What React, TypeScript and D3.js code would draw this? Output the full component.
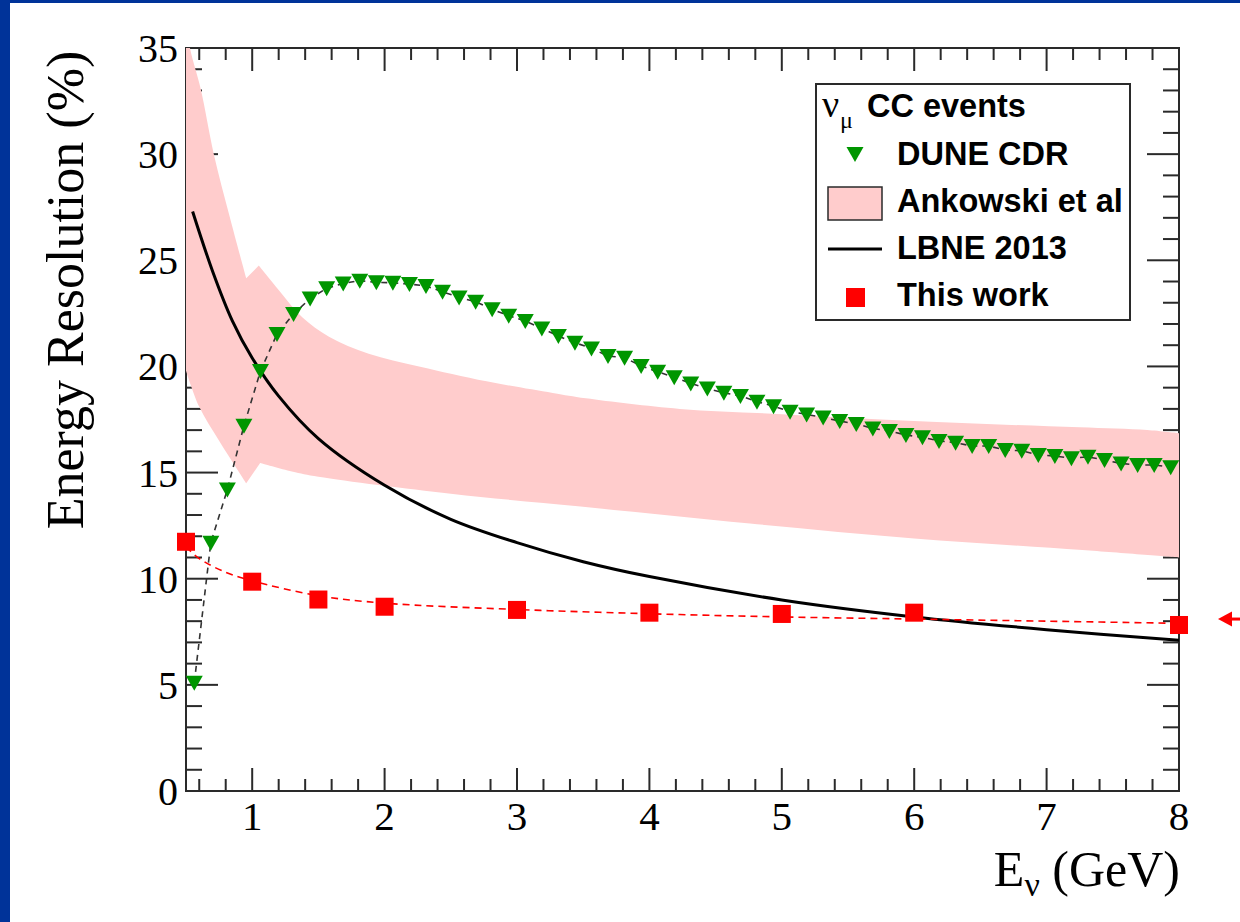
import React from 'react';
import * as d3 from 'd3';

// ---------------- data ----------------
const duneE = [
  0.5625, 0.6875, 0.8125, 0.9375, 1.0625, 1.1875, 1.3125, 1.4375, 1.5625, 1.6875,
  1.8125, 1.9375, 2.0625, 2.1875, 2.3125, 2.4375, 2.5625, 2.6875, 2.8125, 2.9375,
  3.0625, 3.1875, 3.3125, 3.4375, 3.5625, 3.6875, 3.8125, 3.9375, 4.0625, 4.1875,
  4.3125, 4.4375, 4.5625, 4.6875, 4.8125, 4.9375, 5.0625, 5.1875, 5.3125, 5.4375,
  5.5625, 5.6875, 5.8125, 5.9375, 6.0625, 6.1875, 6.3125, 6.4375, 6.5625, 6.6875,
  6.8125, 6.9375, 7.0625, 7.1875, 7.3125, 7.4375, 7.5625, 7.6875, 7.8125, 7.9375,
];
const duneRes = [
  5.1, 11.7, 14.2, 17.2, 19.78, 21.53, 22.47, 23.2, 23.68, 23.91,
  24.04, 23.96, 23.94, 23.88, 23.79, 23.52, 23.25, 23.05, 22.69, 22.39,
  22.14, 21.79, 21.43, 21.12, 20.85, 20.49, 20.41, 20.02, 19.75, 19.49,
  19.2, 18.96, 18.76, 18.61, 18.34, 18.13, 17.87, 17.74, 17.59, 17.43,
  17.29, 17.08, 16.96, 16.77, 16.66, 16.49, 16.41, 16.25, 16.25, 16.06,
  16.03, 15.83, 15.78, 15.67, 15.74, 15.59, 15.43, 15.36, 15.36, 15.25,
];

// Ankowski band: below / above the 1 GeV step
const bandUpperLowE = [0.5, 0.53, 0.61, 0.71, 0.83, 0.955];
const bandUpperLowR = [36.5, 35.0, 33.1, 30.0, 27.05, 24.15];
const bandUpperHighE = [1.05, 1.2, 1.38, 1.58, 1.88, 2.26, 2.77, 3.27, 3.52, 4.23, 5.0, 5.75, 6.5, 7.25, 7.76, 8.0];
const bandUpperHighR = [24.75, 23.6, 22.3, 21.4, 20.6, 20.0, 19.3, 18.75, 18.5, 18.0, 17.75, 17.5, 17.3, 17.13, 17.0, 16.85];
const bandLowerLowE = [0.5, 0.6, 0.75, 0.955];
const bandLowerLowR = [19.8, 18.1, 16.5, 14.5];
const bandLowerHighE = [1.06, 1.3, 1.5, 2.5, 3.48, 4.76, 6.0, 7.27, 8.0];
const bandLowerHighR = [15.45, 15.05, 14.8, 14.0, 13.4, 12.6, 11.9, 11.35, 11.0];

const lbneE = [0.55, 0.7, 0.85, 1.0, 1.2, 1.5, 2.0, 2.5, 3.0, 3.5, 4.0, 5.0, 6.0, 7.0, 8.0];
const lbneR = [27.3, 24.5, 22.15, 20.4, 18.6, 16.6, 14.4, 12.8, 11.7, 10.8, 10.1, 9.0, 8.2, 7.6, 7.1];

const workE = [0.5, 1, 1.5, 2, 3, 4, 5, 6, 8];
const workR = [11.74, 9.86, 9.02, 8.68, 8.53, 8.4, 8.34, 8.4, 7.82];

const fitE = [0.5, 0.6, 0.8, 1.0, 1.5, 2.0, 3.0, 4.0, 5.0, 6.0, 7.0, 8.0];
const fitR = [11.5, 10.95, 10.3, 9.9, 9.2, 8.85, 8.55, 8.35, 8.2, 8.1, 8.0, 7.9];

const arrowRes = 8.1;

const xMajorTicks = [1, 2, 3, 4, 5, 6, 7, 8];
const yMajorTicks = [0, 5, 10, 15, 20, 25, 30, 35];

const legendLabels = ['DUNE CDR', 'Ankowski et al', 'LBNE 2013', 'This work'];

// ---------------- styles ----------------
const W = 1240, H = 922;
const PINK = '#ffcccc';
const GREEN = '#009600';
const RED = '#ff0000';
const AXIS = '#2a2a2a';
const SERIF = '"Liberation Serif", "Times New Roman", serif';
const SANS = '"Liberation Sans", Arial, Helvetica, sans-serif';

const X0 = 186, X1 = 1179, Y0 = 791, Y1 = 48;

type P = [number, number];
const zip = (a: number[], b: number[]): P[] => a.map((v, i) => [v, b[i]]);

export default function App() {
  const x = d3.scaleLinear().domain([0.5, 8]).range([X0, X1]);
  const y = d3.scaleLinear().domain([0, 35]).range([Y0, Y1]);

  const xMinor = d3.range(0.6, 8.0001, 0.2).filter(v => Math.abs(v - Math.round(v)) > 1e-6);
  const yMinor = d3.range(0, 35.0001, 1).filter(v => v % 5 !== 0);

  const lin = d3.line<P>().x(d => x(d[0])).y(d => y(d[1]));
  const smooth = d3.line<P>().x(d => x(d[0])).y(d => y(d[1])).curve(d3.curveCatmullRom.alpha(0.5));
  const cont = (pts: P[]) => (smooth(pts) || '').replace(/^M/, 'L');

  const bandPath =
    (smooth(zip(bandUpperLowE, bandUpperLowR)) || '') +
    cont(zip(bandUpperHighE, bandUpperHighR)) +
    cont(zip(bandLowerHighE, bandLowerHighR).reverse()) +
    cont(zip(bandLowerLowE, bandLowerLowR).reverse()) + 'Z';

  const lbnePath = smooth(zip(lbneE, lbneR)) || '';
  const fitPath = smooth(zip(fitE, fitR)) || '';
  const dunePath = lin(zip(duneE, duneRes)) || '';

  const tri = (cx: number, cy: number) =>
    `M${cx - 8.5},${cy - 7} L${cx + 8.5},${cy - 7} L${cx},${cy + 8} Z`;

  const ay = y(arrowRes);

  return (
    <svg width={W} height={H} style={{ position: 'absolute', left: 0, top: 0, background: '#fff' }}
      xmlns="http://www.w3.org/2000/svg">
      <defs>
        <clipPath id="plotClip">
          <rect x={X0} y={Y1} width={X1 - X0} height={Y0 - Y1} />
        </clipPath>
      </defs>
      {/* blue slide border */}
      <rect x={0} y={0} width={W} height={3} fill="#003399" />
      <rect x={0} y={0} width={10} height={H} fill="#003399" />

      {/* frame */}
      <rect x={X0} y={Y1} width={X1 - X0} height={Y0 - Y1} fill="none" stroke={AXIS} strokeWidth={2} />

      {/* x ticks bottom & top */}
      {xMajorTicks.map(t => (
        <g key={'xm' + t}>
          <line x1={x(t)} x2={x(t)} y1={Y0} y2={Y0 - 23} stroke={AXIS} strokeWidth={2} />
          <line x1={x(t)} x2={x(t)} y1={Y1} y2={Y1 + 23} stroke={AXIS} strokeWidth={2} />
        </g>
      ))}
      {xMinor.map(t => (
        <g key={'xn' + t.toFixed(2)}>
          <line x1={x(t)} x2={x(t)} y1={Y0} y2={Y0 - 12} stroke={AXIS} strokeWidth={2} />
          <line x1={x(t)} x2={x(t)} y1={Y1} y2={Y1 + 12} stroke={AXIS} strokeWidth={2} />
        </g>
      ))}
      {/* y ticks left & right */}
      {yMajorTicks.map(t => (
        <g key={'ym' + t}>
          <line x1={X0} x2={X0 + 32} y1={y(t)} y2={y(t)} stroke={AXIS} strokeWidth={2} />
          <line x1={X1} x2={X1 - 32} y1={y(t)} y2={y(t)} stroke={AXIS} strokeWidth={2} />
        </g>
      ))}
      {yMinor.map(t => (
        <g key={'yn' + t}>
          <line x1={X0} x2={X0 + 16} y1={y(t)} y2={y(t)} stroke={AXIS} strokeWidth={2} />
          <line x1={X1} x2={X1 - 16} y1={y(t)} y2={y(t)} stroke={AXIS} strokeWidth={2} />
        </g>
      ))}

      {/* tick labels */}
      {xMajorTicks.map(t => (
        <text key={'xl' + t} x={x(t)} y={830} textAnchor="middle" fontFamily={SERIF} fontSize={41} fill="#000">{t}</text>
      ))}
      {yMajorTicks.map(t => (
        <text key={'yl' + t} x={178} y={y(t) + 14} textAnchor="end" fontFamily={SERIF} fontSize={40} fill="#000">{t}</text>
      ))}

      {/* axis titles */}
      <text transform="translate(83,290) rotate(-90)" textAnchor="middle" fontFamily={SERIF} fontSize={52} fill="#000">
        Energy Resolution (%)
      </text>
      <text x={1180} y={886} textAnchor="end" fontFamily={SERIF} fontSize={50} fill="#000">
        E<tspan fontSize={34} dy={10}>ν</tspan><tspan dy={-10}> (GeV)</tspan>
      </text>

      {/* data */}
      <g clipPath="url(#plotClip)">
        <path d={bandPath} fill={PINK} stroke="none" />
        <path d={lbnePath} fill="none" stroke="#000" strokeWidth={3} />
        <path d={fitPath} fill="none" stroke={RED} strokeWidth={1.6} strokeDasharray="7 5" />
        <path d={dunePath} fill="none" stroke="#333" strokeWidth={1.6} strokeDasharray="6 5" />
      </g>
      {duneE.map((e, i) => (
        <path key={'t' + i} d={tri(x(e), y(duneRes[i]))} fill={GREEN} />
      ))}
      {workE.map((e, i) => (
        <rect key={'s' + i} x={x(e) - 9} y={y(workR[i]) - 9} width={18} height={18} fill={RED} />
      ))}

      {/* arrow */}
      <line x1={1226} x2={1240} y1={ay} y2={ay} stroke={RED} strokeWidth={3} />
      <path d={`M1218,${ay} L1232,${ay - 7.5} L1232,${ay + 7.5} Z`} fill={RED} />

      {/* legend */}
      <rect x={816} y={84} width={314} height={236} fill="#fff" stroke={AXIS} strokeWidth={2} />
      <text x={822} y={117} fontFamily={SERIF} fontSize={38} fill="#000">ν</text>
      <text x={840} y={128} fontFamily={SERIF} fontSize={24} fill="#000">μ</text>
      <text x={867} y={117} fontFamily={SANS} fontWeight="bold" fontSize={32.5} fill="#000">CC events</text>

      <path d={tri(855, 154)} fill={GREEN} />
      <rect x={828} y={187} width={54} height={33} fill={PINK} stroke={AXIS} strokeWidth={1.5} />
      <line x1={828} x2={882} y1={249} y2={249} stroke="#000" strokeWidth={3} />
      <rect x={846} y={288} width={19} height={19} fill={RED} />
      {legendLabels.map((l, i) => (
        <text key={l} x={897} y={165 + i * 47} fontFamily={SANS} fontWeight="bold" fontSize={32.5} fill="#000">{l}</text>
      ))}
    </svg>
  );
}
